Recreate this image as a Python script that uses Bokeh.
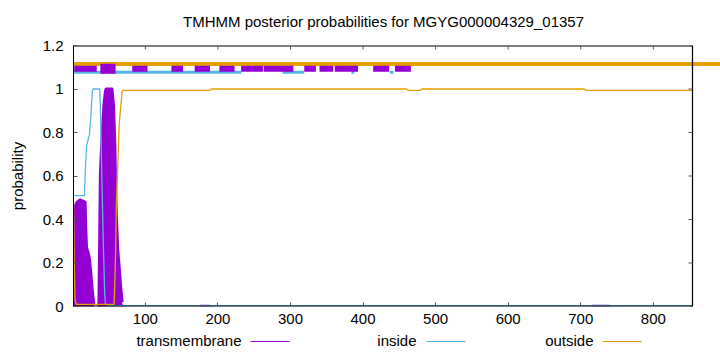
import numpy as np
from bokeh.plotting import figure
from bokeh.layouts import column
from bokeh.models import Range1d, FixedTicker, CustomJSTickFormatter
from bokeh.core.properties import value
from bokeh.embed import file_html
from bokeh.resources import INLINE

# ---------------- data ----------------
title_text = "TMHMM posterior probabilities for MGYG000004329_01357"
seq_len = 854
x_ticks = [100, 200, 300, 400, 500, 600, 700, 800]
y_ticks = [0, 0.2, 0.4, 0.6, 0.8, 1.0, 1.2]
legend_names = ["transmembrane", "inside", "outside"]

# transmembrane posterior
tm_x = [1, 2, 3, 6, 10, 17, 18, 19, 21, 23, 25, 27, 29, 30, 36, 37, 38, 39, 41, 43, 45, 46, 54, 56, 58,
        59, 60, 62, 64, 66, 68, 69, 70, 173, 176, 189, 192, 713, 716, 740, 743, 854]
tm_y = [0.0, 0.3, 0.46, 0.48, 0.49, 0.48, 0.35, 0.27, 0.25, 0.22, 0.15, 0.07, 0.01, 0.0, 0.0, 0.3, 0.6,
        0.69, 0.82, 0.93, 0.99, 1.0, 1.0, 0.93, 0.75, 0.55, 0.42, 0.26, 0.18, 0.09, 0.02, 0.0, 0.0, 0.0,
        0.008, 0.008, 0.0, 0.0, 0.008, 0.008, 0.0, 0.0]

# inside posterior
in_x = [1, 16, 17, 19, 23, 25, 27, 28, 37, 38, 40, 42, 44, 45, 50, 854]
in_y = [0.51, 0.51, 0.6, 0.74, 0.79, 0.88, 0.99, 1.0, 1.0, 0.93, 0.6, 0.3, 0.06, 0.01, 0.004, 0.004]

# outside posterior
out_x = [1, 2, 3, 5, 57, 59, 60, 64, 68, 70, 189, 191, 460, 462, 479, 481, 705, 707, 854]
out_y = [0.49, 0.2, 0.03, 0.01, 0.01, 0.24, 0.46, 0.84, 0.99, 0.994, 0.994, 1.0, 1.0, 0.994, 0.994,
         1.0, 1.0, 0.994, 0.994]

# predicted topology bands (top of chart)
tm_seg_start = [2, 82, 136, 168, 202, 232, 263, 319, 340, 361, 414, 444]
tm_seg_end = [33, 103, 152, 189, 223, 262, 304, 335, 359, 393, 436, 466]
tm_big_start = [38]
tm_big_end = [59]
in_seg_start = [1, 289, 384, 437]
in_seg_end = [232, 319, 388, 442]
out_seg_start = [1]
out_seg_end = [900]
band_out_level = 1.115
band_tm_level = 1.093
band_in_level = 1.077

C_TM = "#9400D3"
C_IN = "#56B4E9"
C_OUT = "#E69F00"
FONT = "Liberation Sans"
FS = "15px"

# ---------------- title strip ----------------
W = 720
title_h = 36
tf = figure(width=W, height=title_h, output_backend="svg", toolbar_location=None,
            x_range=Range1d(0, W), y_range=Range1d(0, title_h), min_border=0, frame_align=False)
tf.axis.visible = False
tf.grid.visible = False
tf.outline_line_color = None
tf.text(x=[383], y=[title_h - 21], text=[title_text], text_align="center", text_baseline="middle",
        text_font=value(FONT), text_font_size=FS, text_color="black")

# ---------------- main plot ----------------
left_px, right_px, data_right_px = 73, 720, 692
x_end = 1 + (seq_len - 1) * (right_px - left_px) / (data_right_px - left_px)
main_h = 296
p = figure(width=W, height=main_h, output_backend="svg", toolbar_location=None,
           x_range=Range1d(1, x_end), y_range=Range1d(0, 1.2), frame_align=False,
           min_border_left=left_px, min_border_right=0, min_border_top=9, min_border_bottom=26)
p.grid.visible = False
p.outline_line_color = None

# transmembrane: filled area plus a thick stroke on its non-zero parts (impulse look)
p.varea(x=tm_x, y1=0, y2=tm_y, fill_color=C_TM, fill_alpha=1.0)
tx, ty = np.array(tm_x, float), np.array(tm_y, float)
runs_x, runs_y, cur_x, cur_y = [], [], [], []
for i in range(len(tx) - 1):
    if ty[i] > 0.05 or ty[i + 1] > 0.05:
        if not cur_x:
            cur_x, cur_y = [tx[i]], [ty[i]]
        cur_x.append(tx[i + 1]); cur_y.append(ty[i + 1])
    elif cur_x:
        runs_x.append(cur_x); runs_y.append(cur_y); cur_x, cur_y = [], []
if cur_x:
    runs_x.append(cur_x); runs_y.append(cur_y)
p.multi_line(xs=runs_x, ys=runs_y, line_color=C_TM, line_width=3, line_join="round")

p.line(in_x, in_y, line_color=C_IN, line_width=1.3)
p.line(out_x, out_y, line_color=C_OUT, line_width=1.3)

p.segment(x0=out_seg_start, y0=band_out_level, x1=out_seg_end, y1=band_out_level,
          line_color=C_OUT, line_width=4)
p.segment(x0=in_seg_start, y0=band_in_level, x1=in_seg_end, y1=band_in_level,
          line_color=C_IN, line_width=3)
p.segment(x0=tm_seg_start, y0=band_tm_level, x1=tm_seg_end, y1=band_tm_level,
          line_color=C_TM, line_width=6)
p.segment(x0=tm_big_start, y0=band_tm_level, x1=tm_big_end, y1=band_tm_level,
          line_color=C_TM, line_width=10)

# frame (ends at the sequence length)
p.segment(x0=[1, 1], y0=[0, 1.2], x1=[seq_len, seq_len], y1=[0, 1.2], line_color="black", line_width=2)
p.segment(x0=[seq_len], y0=[0], x1=[seq_len], y1=[1.2], line_color="black", line_width=1.2)
# mirror ticks
p.ray(x=x_ticks, y=[1.2] * len(x_ticks), length=4, angle=-np.pi / 2, length_units="screen",
      line_color="#555555", line_width=1)
p.ray(x=[seq_len] * len(y_ticks), y=y_ticks, length=4, angle=np.pi, length_units="screen",
      line_color="#555555", line_width=1)

p.xaxis.ticker = FixedTicker(ticks=x_ticks)
p.yaxis.ticker = FixedTicker(ticks=y_ticks)
p.yaxis.formatter = CustomJSTickFormatter(code="return tick.toFixed(1).replace(/\\.0$/, '');")
p.xaxis.axis_line_color = None
p.yaxis.axis_line_color = "black"
for ax in (p.xaxis[0], p.yaxis[0]):
    ax.major_tick_in = 4
    ax.major_tick_out = 0
    ax.minor_tick_line_color = None
    ax.major_tick_line_color = "#555555"
    ax.major_label_text_font = FONT
    ax.major_label_text_font_size = FS
    ax.major_label_text_color = "black"
p.xaxis.major_label_standoff = 7
p.yaxis.major_label_standoff = 10
p.yaxis.axis_label = "probability"
p.yaxis.axis_label_text_font = FONT
p.yaxis.axis_label_text_font_size = FS
p.yaxis.axis_label_text_font_style = "normal"
p.yaxis.axis_label_text_color = "black"
p.yaxis.axis_label_standoff = 14

# ---------------- legend strip ----------------
leg_h = 20
lf = figure(width=W, height=leg_h, output_backend="svg", toolbar_location=None,
            x_range=Range1d(0, W), y_range=Range1d(0, leg_h), min_border=0, frame_align=False)
lf.axis.visible = False
lf.grid.visible = False
lf.outline_line_color = None
text_right = [241, 416, 593]
lf.text(x=text_right, y=[12] * 3, text=legend_names, text_align="right", text_baseline="middle",
        text_font=value(FONT), text_font_size=FS, text_color="black")
sample_x0 = [250, 426, 602]
sample_x1 = [289, 465, 641]
lf.segment(x0=sample_x0, y0=[11] * 3, x1=sample_x1, y1=[11] * 3,
           line_color=[C_TM, C_IN, C_OUT], line_width=1)

layout = column(tf, p, lf, spacing=0)
open("out.html", "w").write(file_html(layout, INLINE))
